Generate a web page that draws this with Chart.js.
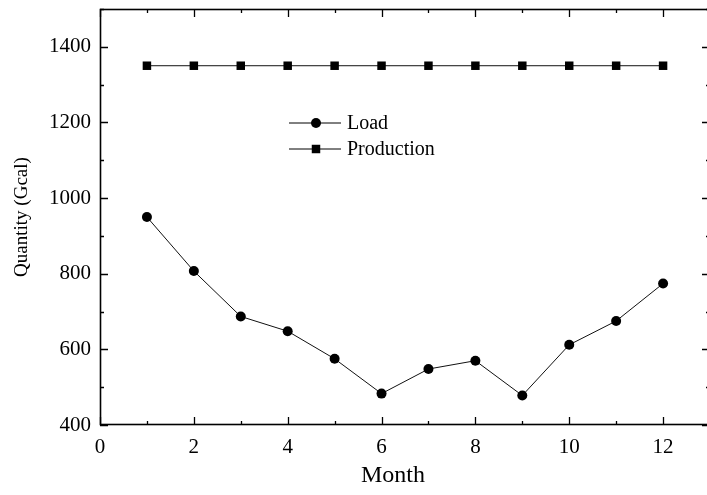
<!DOCTYPE html>
<html lang="en">
<head>
  <meta charset="UTF-8">
  <title>Monthly load and production</title>
  <script src="https://cdn.jsdelivr.net/npm/chart.js"></script>
  <style>
    html, body { margin: 0; padding: 0; background: #fff; overflow: hidden; }
    #wrap { width: 710px; height: 495px; }
  </style>
</head>
<body>
  <div id="wrap"><canvas id="qtyChart" width="710" height="495"></canvas></div>
  <script>
    // monthly quantities (Gcal)
    const months = [1, 2, 3, 4, 5, 6, 7, 8, 9, 10, 11, 12];
    const loadValues = [950, 807, 687, 648, 575, 483, 548, 570, 478, 612, 675, 774];
    const productionValues = [1350, 1350, 1350, 1350, 1350, 1350, 1350, 1350, 1350, 1350, 1350, 1350];
    const seriesNames = ['Load', 'Production'];
    const xTitle = 'Month';
    const yTitle = 'Quantity (Gcal)';

    const serif = '"Liberation Serif", "Times New Roman", serif';

    // frame on all four sides with inward ticks, origin-style
    const framePlugin = {
      id: 'frame',
      afterDraw(chart) {
        const { ctx, chartArea: a, scales: { x, y } } = chart;
        ctx.save();
        ctx.strokeStyle = '#000';
        ctx.lineWidth = 1.6;
        ctx.strokeRect(a.left + 0.5, a.top + 0.5, a.right - a.left - 1, a.bottom - a.top - 1);
        ctx.lineWidth = 1.3;
        ctx.beginPath();
        x.ticks.forEach(t => {
          const px = Math.round(x.getPixelForValue(t.value)) + 0.5;
          const len = t.value % 2 === 0 ? 8 : 4;
          ctx.moveTo(px, a.bottom); ctx.lineTo(px, a.bottom - len);
          ctx.moveTo(px, a.top); ctx.lineTo(px, a.top + len);
        });
        y.ticks.forEach(t => {
          const py = Math.round(y.getPixelForValue(t.value)) + 0.5;
          const len = t.value % 200 === 0 ? 8 : 4;
          ctx.moveTo(a.left, py); ctx.lineTo(a.left + len, py);
          ctx.moveTo(a.right, py); ctx.lineTo(a.right - len, py);
        });
        ctx.stroke();

        // x axis title, set a little left of the plot centre
        ctx.font = '24px ' + serif;
        ctx.fillStyle = '#000';
        ctx.textAlign = 'center';
        ctx.textBaseline = 'middle';
        ctx.fillText(xTitle, (a.left + a.right) / 2 - 12, a.bottom + 51);
        ctx.restore();
      }
    };

    // small line + marker legend inside the plot
    const legendPlugin = {
      id: 'inlineLegend',
      afterDraw(chart) {
        const { ctx, chartArea: a } = chart;
        const x0 = a.left + 189, y0 = a.top + 114, gap = 26;
        ctx.save();
        ctx.font = '20px ' + serif;
        ctx.textBaseline = 'middle';
        ctx.fillStyle = '#000';
        chart.data.datasets.forEach((ds, i) => {
          const yy = y0 + i * gap;
          ctx.strokeStyle = '#000';
          ctx.lineWidth = 1;
          ctx.beginPath();
          ctx.moveTo(x0, yy); ctx.lineTo(x0 + 52, yy);
          ctx.stroke();
          Chart.helpers.drawPoint(ctx, {
            pointStyle: ds.pointStyle, radius: ds.pointRadius, borderWidth: 0
          }, x0 + 27, yy);
          ctx.fillText(ds.label, x0 + 58, yy + 1);
        });
        ctx.restore();
      }
    };

    const ctx = document.getElementById('qtyChart').getContext('2d');
    new Chart(ctx, {
      type: 'line',
      data: {
        datasets: [
          {
            label: seriesNames[0],
            data: months.map((m, i) => ({ x: m, y: loadValues[i] })),
            borderColor: '#111',
            borderWidth: 1,
            backgroundColor: '#000',
            pointStyle: 'circle',
            pointRadius: 5,
            pointBorderWidth: 0,
            pointBackgroundColor: '#000',
            tension: 0
          },
          {
            label: seriesNames[1],
            data: months.map((m, i) => ({ x: m, y: productionValues[i] })),
            borderColor: '#111',
            borderWidth: 1,
            backgroundColor: '#000',
            pointStyle: 'rect',
            pointRadius: 6,
            pointBorderWidth: 0,
            pointBackgroundColor: '#000',
            tension: 0
          }
        ]
      },
      options: {
        responsive: false,
        animation: false,
        layout: { autoPadding: false, padding: { top: 9, left: 0, right: 0, bottom: 0 } },
        plugins: { legend: { display: false }, tooltip: { enabled: false } },
        scales: {
          x: {
            type: 'linear',
            min: 0,
            max: 13,
            grid: { display: false, drawTicks: false },
            border: { display: false },
            ticks: {
              stepSize: 1,
              padding: 10,
              color: '#000',
              font: { family: serif, size: 21 },
              maxRotation: 0,
              autoSkip: false,
              callback: v => (v % 2 === 0 ? String(v) : '')
            },
            afterFit: s => {
              s.height = 70;
              s.paddingLeft = 0;
              s.paddingRight = 0;
            }
          },
          y: {
            min: 400,
            max: 1500,
            grid: { display: false, drawTicks: false },
            border: { display: false },
            ticks: {
              stepSize: 100,
              padding: 9,
              color: '#000',
              font: { family: serif, size: 21 },
              autoSkip: false,
              callback: v => (v % 200 === 0 ? String(v) : '')
            },
            title: {
              display: true,
              text: yTitle,
              color: '#000',
              font: { family: serif, size: 19 },
              padding: { top: 11, bottom: 0 }
            },
            afterFit: s => {
              s.width = 100;
              s.paddingTop = 0;
              s.paddingBottom = 0;
            }
          }
        }
      },
      plugins: [framePlugin, legendPlugin]
    });
  </script>
</body>
</html>
